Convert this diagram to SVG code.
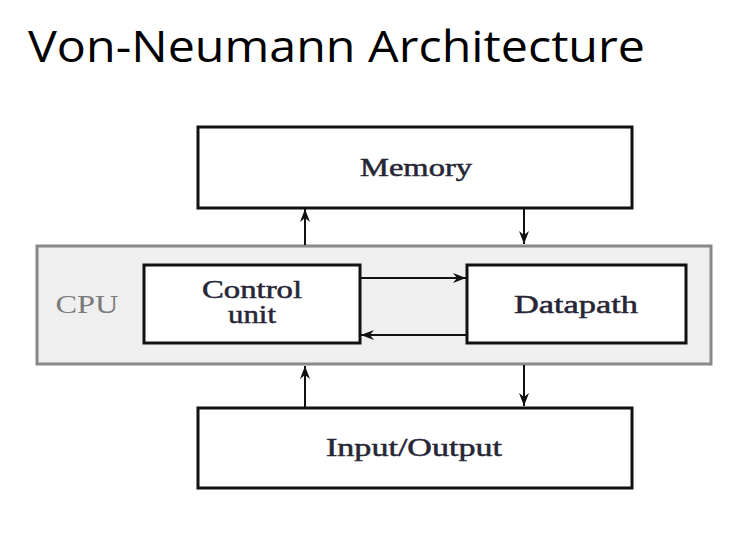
<svg xmlns="http://www.w3.org/2000/svg" width="756" height="536" viewBox="0 0 756 536">
<defs>
<marker id="ah" markerWidth="14" markerHeight="14" refX="13" refY="6" orient="auto" markerUnits="userSpaceOnUse">
<path d="M0,1 L13,6 L0,11 L4,6 Z" fill="#111"/>
</marker>
<style>
.box{fill:#fff;stroke:#111;stroke-width:3}
.lbl{font-family:"Liberation Serif","DejaVu Serif",serif;font-size:25px;fill:#262636;stroke:#262636;stroke-width:0.5;text-anchor:middle}
.conn{stroke:#111;stroke-width:2;fill:none;marker-end:url(#ah)}
</style>
</defs>
<rect width="756" height="536" fill="#fff"/>
<text x="28" y="62" font-family="Open Sans, Noto Sans, sans-serif" font-size="44" fill="#000" textLength="617" lengthAdjust="spacingAndGlyphs">Von-Neumann Architecture</text>
<g id="cpu">
<rect x="37" y="246" width="674" height="118" fill="#efefef" stroke="#888" stroke-width="3"/>
<text x="87" y="313" class="lbl" style="fill:#7a7a7a;stroke:none" textLength="63" lengthAdjust="spacingAndGlyphs">CPU</text>
</g>
<g id="memory">
<rect class="box" x="198" y="127" width="434" height="81"/>
<text x="416" y="176" class="lbl" textLength="112" lengthAdjust="spacingAndGlyphs">Memory</text>
</g>
<g id="control">
<rect class="box" x="144" y="265" width="216" height="78"/>
<text x="252" y="298" class="lbl" textLength="100" lengthAdjust="spacingAndGlyphs">Control</text>
<text x="252" y="323" class="lbl" textLength="48" lengthAdjust="spacingAndGlyphs">unit</text>
</g>
<g id="datapath">
<rect class="box" x="467" y="265" width="219" height="78"/>
<text x="576" y="313" class="lbl" textLength="124" lengthAdjust="spacingAndGlyphs">Datapath</text>
</g>
<g id="io">
<rect class="box" x="198" y="408" width="434" height="80"/>
<text x="414" y="456" class="lbl" textLength="176" lengthAdjust="spacingAndGlyphs">Input/Output</text>
</g>
<g id="connectors">
<line class="conn" x1="305" y1="245" x2="305" y2="209"/>
<line class="conn" x1="524" y1="208" x2="524" y2="244"/>
<line class="conn" x1="361" y1="278" x2="466" y2="278"/>
<line class="conn" x1="466" y1="335" x2="361" y2="335"/>
<line class="conn" x1="305" y1="407" x2="305" y2="366"/>
<line class="conn" x1="524" y1="365" x2="524" y2="406"/>
</g>
</svg>
